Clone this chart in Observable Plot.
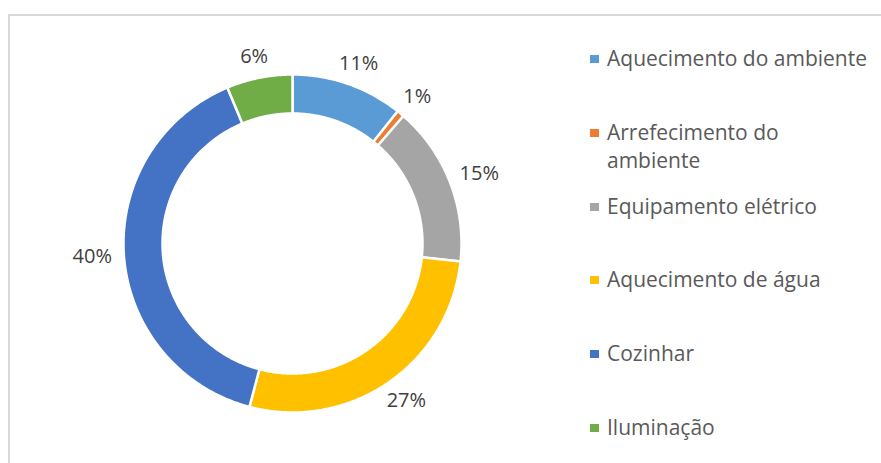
<!DOCTYPE html>
<html>
<head>
<meta charset="utf-8">
<script src="https://cdn.jsdelivr.net/npm/d3@7"></script>
<script src="https://cdn.jsdelivr.net/npm/@observablehq/plot@0.6"></script>
<style>
  html, body { margin: 0; padding: 0; background: #fff; overflow: hidden; }
  #wrap { position: relative; width: 881px; height: 463px; overflow: hidden; font-family: "Open Sans", sans-serif; }
  #frame { position: absolute; left: 8px; top: 14px; width: 920px; height: 520px; border: 2px solid #d9d9d9; box-sizing: border-box; }
  #chart { position: absolute; left: 0; top: 0; }
  #legend { position: absolute; left: 590px; top: 0; }
  .item { position: absolute; left: 0; width: 290px; }
  .sw { position: absolute; left: 0; width: 9px; height: 8px; }
  .lt { position: absolute; left: 17px; width: 266px; font-size: 21px; line-height: 28px; color: #595959; white-space: normal; }
</style>
</head>
<body>
<div id="wrap">
  <div id="frame"></div>
  <div id="chart"></div>
  <div id="legend"></div>
</div>
<script>
// ---- data ----
const categories = ["Aquecimento do ambiente", "Arrefecimento do ambiente", "Equipamento elétrico", "Aquecimento de água", "Cozinhar", "Iluminação"];
const shares = [10.7, 0.7, 15.3, 27.4, 39.6, 6.3];
const labels = ["11%", "1%", "15%", "27%", "40%", "6%"];
const colors = ["#5B9BD5", "#ED7D31", "#A5A5A5", "#FFC000", "#4472C4", "#70AD47"];

// ---- layout ----
const W = 881, H = 463;
const cx = 292, cy = 243, R = 169;      // outer radius in px
const inner = 130 / 169;                // hole ratio
const labelR = 181 / 169;
const fontSize = 20;

const total = d3.sum(shares);
let acc = 0;
const slices = categories.map((name, i) => {
  const a0 = acc / total * 2 * Math.PI;
  acc += shares[i];
  const a1 = acc / total * 2 * Math.PI;
  return {name, a0, a1, label: labels[i]};
});

// polygon points for each ring slice, in unit coordinates
const pts = [];
for (const s of slices) {
  const n = Math.max(2, Math.ceil((s.a1 - s.a0) / (Math.PI / 360)));
  for (let k = 0; k <= n; k++) {
    const a = s.a0 + (s.a1 - s.a0) * k / n;
    pts.push({name: s.name, x: Math.sin(a), y: Math.cos(a)});
  }
  for (let k = n; k >= 0; k--) {
    const a = s.a0 + (s.a1 - s.a0) * k / n;
    pts.push({name: s.name, x: inner * Math.sin(a), y: inner * Math.cos(a)});
  }
}

// label anchors: just outside the ring, shifted by half the text box
const labelData = slices.map(s => {
  const m = (s.a0 + s.a1) / 2;
  const digits = s.label.length - 1;
  const w = (digits * 0.572 + 0.823) * fontSize;
  const h = 20;
  const px = Math.sin(m) * (labelR * R + w / 2);
  const py = Math.cos(m) * (labelR * R + h / 2);
  return {label: s.label, x: px / R, y: py / R};
});

const chart = Plot.plot({
  width: W,
  height: H,
  x: {domain: [-1, 1], range: [cx - R, cx + R]},
  y: {domain: [-1, 1], range: [cy + R, cy - R]},
  axis: null,
  color: {domain: categories, range: colors},
  style: {fontFamily: "'Open Sans', sans-serif", background: "transparent"},
  marks: [
    Plot.line(pts, {x: "x", y: "y", z: "name", fill: "name", stroke: "white", strokeWidth: 2.5, curve: "linear-closed"}),
    Plot.text(labelData, {x: "x", y: "y", text: "label", fill: "#404040", fontSize: fontSize, textAnchor: "middle", lineAnchor: "middle"})
  ]
});
document.getElementById("chart").appendChild(chart);

// ---- legend ----
const legendTops = [44, 118, 192, 265, 339, 413];
const legend = document.getElementById("legend");
categories.forEach((name, i) => {
  const it = document.createElement("div");
  it.className = "item";
  it.style.top = legendTops[i] + "px";
  const sw = document.createElement("div");
  sw.className = "sw";
  sw.style.background = colors[i];
  sw.style.top = "11px";
  const t = document.createElement("div");
  t.className = "lt";
  t.textContent = name;
  it.appendChild(sw);
  it.appendChild(t);
  legend.appendChild(it);
});
</script>
</body>
</html>
